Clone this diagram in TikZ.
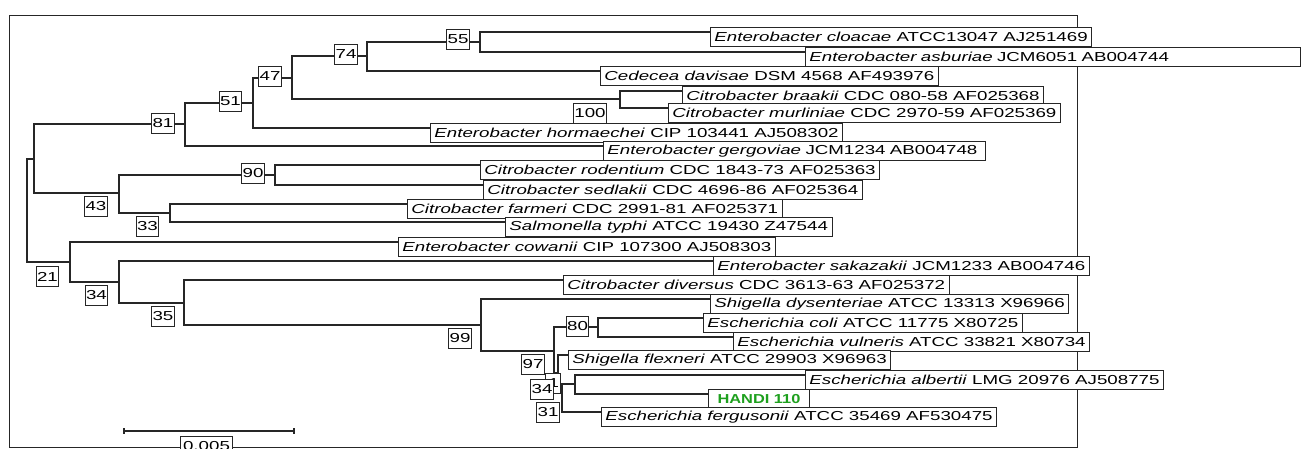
\documentclass[tikz,border=0pt]{standalone}
\usepackage{fontspec}
\setmainfont{Liberation Sans}[FakeStretch=1.44]
\newfontfamily\handifont{Liberation Sans}[FakeStretch=1.26]
\definecolor{handi}{RGB}{30,160,30}
\begin{document}
\begin{tikzpicture}[x=1pt,y=-1pt,
  br/.style={line width=1.3pt,draw=black!85},
  leaf/.style={draw=black!85,fill=white,line width=0.9pt,font=\fontsize{13}{15}\selectfont,
    inner xsep=4pt,inner ysep=0pt,minimum height=19.5pt,anchor=north west},
  bs/.style={draw=black!85,fill=white,line width=0.9pt,font=\fontsize{13}{15}\selectfont,
    inner xsep=1pt,inner ysep=0pt,minimum height=20pt}]
\useasboundingbox (0,0) rectangle (1301,448);
\clip (0,0) rectangle (1301,448);
\fill[white] (0,0) rectangle (1301,448);
% frame
\draw[line width=1pt,black!85] (9,15) rectangle (1077,447);
% internal nodes
\coordinate (nR) at (27,210);
\coordinate (nA) at (34,159);
\coordinate (n81) at (185,124);
\coordinate (n51) at (253,103);
\coordinate (n47) at (292,78);
\coordinate (n74) at (367,56);
\coordinate (n55) at (480,42);
\coordinate (n100) at (620,99);
\coordinate (n43) at (119,193);
\coordinate (n90) at (275,175);
\coordinate (n33) at (170,213);
\coordinate (n21) at (70,262);
\coordinate (n34) at (119,282);
\coordinate (n35) at (184,303);
\coordinate (n99) at (481,325);
\coordinate (n97) at (554,351);
\coordinate (n80) at (598,327);
\coordinate (nX) at (558,373);
\coordinate (nY) at (562,392);
\coordinate (nZ) at (575,384);
% leaf tips
\coordinate (t1) at (710,32);
\coordinate (t2) at (805,52);
\coordinate (t3) at (600,71);
\coordinate (t4) at (682,91);
\coordinate (t5) at (668,108);
\coordinate (t6) at (430,128);
\coordinate (t7) at (603,146);
\coordinate (t8) at (480,165);
\coordinate (t9) at (483,185);
\coordinate (t10) at (407,204);
\coordinate (t11) at (505,222);
\coordinate (t12) at (398,242);
\coordinate (t13) at (713,261);
\coordinate (t14) at (563,280);
\coordinate (t15) at (710,299);
\coordinate (t16) at (703,318);
\coordinate (t17) at (733,337);
\coordinate (t18) at (568,355);
\coordinate (t19) at (805,375);
\coordinate (t20) at (708,394);
\coordinate (t21) at (601,412);
% branches
\draw[br] (nA) -| (nR) |- (n21);
\draw[br] (n81) -| (nA) |- (n43);
\draw[br] (n51) -| (n81) |- (t7);
\draw[br] (n47) -| (n51) |- (t6);
\draw[br] (n74) -| (n47) |- (n100);
\draw[br] (n55) -| (n74) |- (t3);
\draw[br] (t1) -| (n55) |- (t2);
\draw[br] (t4) -| (n100) |- (t5);
\draw[br] (n90) -| (n43) |- (n33);
\draw[br] (t8) -| (n90) |- (t9);
\draw[br] (t10) -| (n33) |- (t11);
\draw[br] (t12) -| (n21) |- (n34);
\draw[br] (t13) -| (n34) |- (n35);
\draw[br] (t14) -| (n35) |- (n99);
\draw[br] (t15) -| (n99) |- (n97);
\draw[br] (n80) -| (n97) |- (nX);
\draw[br] (t16) -| (n80) |- (t17);
\draw[br] (t18) -| (nX) |- (nY);
\draw[br] (nZ) -| (nY) |- (t21);
\draw[br] (t19) -| (nZ) |- (t20);
% leaf labels
\node[leaf] (L1) at ([yshift=5.5pt]t1) {\textit{Enterobacter cloacae} ATCC13047 AJ251469};
\node[leaf,text width=487pt,align=left] (L2) at ([yshift=5.5pt]t2) {\textit{Enterobacter asburiae} JCM6051 AB004744};
\node[leaf] (L3) at ([yshift=5.5pt]t3) {\textit{Cedecea davisae} DSM 4568 AF493976};
\node[leaf] (L4) at ([yshift=5.5pt]t4) {\textit{Citrobacter braakii} CDC 080-58 AF025368};
\node[leaf] (L5) at ([yshift=5.5pt]t5) {\textit{Citrobacter murliniae} CDC 2970-59 AF025369};
\node[leaf] (L6) at ([yshift=5.5pt]t6) {\textit{Enterobacter hormaechei} CIP 103441 AJ508302};
\node[leaf,text width=374pt,align=left] (L7) at ([yshift=5.5pt]t7) {\textit{Enterobacter gergoviae} JCM1234 AB004748};
\node[leaf] (L8) at ([yshift=5.5pt]t8) {\textit{Citrobacter rodentium} CDC 1843-73 AF025363};
\node[leaf] (L9) at ([yshift=5.5pt]t9) {\textit{Citrobacter sedlakii} CDC 4696-86 AF025364};
\node[leaf] (L10) at ([yshift=5.5pt]t10) {\textit{Citrobacter farmeri} CDC 2991-81 AF025371};
\node[leaf] (L11) at ([yshift=5.5pt]t11) {\textit{Salmonella typhi} ATCC 19430 Z47544};
\node[leaf] (L12) at ([yshift=5.5pt]t12) {\textit{Enterobacter cowanii} CIP 107300 AJ508303};
\node[leaf] (L13) at ([yshift=5.5pt]t13) {\textit{Enterobacter sakazakii} JCM1233 AB004746};
\node[leaf] (L14) at ([yshift=5.5pt]t14) {\textit{Citrobacter diversus} CDC 3613-63 AF025372};
\node[leaf] (L15) at ([yshift=5.5pt]t15) {\textit{Shigella dysenteriae} ATCC 13313 X96966};
\node[leaf] (L16) at ([yshift=5.5pt]t16) {\textit{Escherichia coli} ATCC 11775 X80725};
\node[leaf] (L17) at ([yshift=5.5pt]t17) {\textit{Escherichia vulneris} ATCC 33821 X80734};
\node[leaf] (L18) at ([yshift=5.5pt]t18) {\textit{Shigella flexneri} ATCC 29903 X96963};
\node[leaf] (L19) at ([yshift=5.5pt]t19) {\textit{Escherichia albertii} LMG 20976 AJ508775};
\node[leaf,text=handi,minimum width=101pt,font=\fontsize{13}{15}\handifont\bfseries] (L20) at ([yshift=5.5pt]t20) {HANDI 110};
\node[leaf] (L21) at ([yshift=5.5pt]t21) {\textit{Escherichia fergusonii} ATCC 35469 AF530475};
% bootstrap values
\node[bs] (b55) at (458,39) {55};
\node[bs] (b74) at (346,54.5) {74};
\node[bs] (b47) at (270,76) {47};
\node[bs] (b51) at (230.5,101) {51};
\node[bs] (b81) at (163,123) {81};
\node[bs] (b100) at (590,113.5) {100};
\node[bs] (b90) at (253,173) {90};
\node[bs] (b43) at (96,206.5) {43};
\node[bs] (b33) at (147.5,226.5) {33};
\node[bs] (b21) at (47.5,276.5) {21};
\node[bs] (b34a) at (96.5,295) {34};
\node[bs] (b35) at (163,316) {35};
\node[bs] (b99) at (460,338) {99};
\node[bs] (b97) at (533,364.5) {97};
\node[bs] (b80) at (577.5,326) {80};
\node[bs,text width=13pt,align=right] (b1) at (552.5,383) {1};
\node[bs] (b34b) at (542,389) {34};
\node[bs] (b31) at (548,412.5) {31};
% scale bar
\coordinate (s1) at (124,431);
\coordinate (s2) at (294,431);
\draw[br] (s1) -- (s2);
\draw[br] ([yshift=3pt]s1) -- ([yshift=-3pt]s1);
\draw[br] ([yshift=3pt]s2) -- ([yshift=-3pt]s2);
\node[bs,inner xsep=3pt] (sb) at (206.5,446) {0.005};
\end{tikzpicture}
\end{document}
